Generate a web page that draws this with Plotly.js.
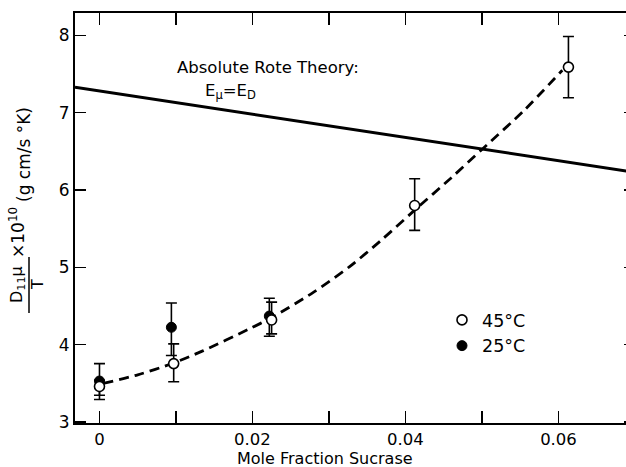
<!DOCTYPE html>
<html>
<head>
<meta charset="utf-8">
<script src="https://cdn.plot.ly/plotly-3.0.1.min.js"></script>
<style>
html, body { margin: 0; padding: 0; overflow: hidden; background: #fff; }
#chart { width: 640px; height: 467px; }
</style>
</head>
<body>
<div id="chart"></div>
<script>
// 45 °C measurements (open circles)
var x45 = [0, 0.0097, 0.0225, 0.0412, 0.0613];
var y45 = [3.46, 3.755, 4.32, 5.80, 7.59];
var err45Plus = [0.08, 0.255, 0.23, 0.347, 0.397];
var err45Minus = [0.115, 0.235, 0.18, 0.321, 0.396];

// 25 °C measurements (filled circles)
var x25 = [0, 0.0094, 0.0222];
var y25 = [3.53, 4.225, 4.37];
var err25Plus = [0.225, 0.315, 0.23];
var err25Minus = [0.24, 0.365, 0.26];

// dashed curve through the 45 °C data
var xFit = [0.0005, 0.005, 0.0096, 0.0135, 0.0197, 0.0225, 0.028, 0.0327, 0.0367, 0.0412, 0.046, 0.0501, 0.0555, 0.0605];
var yFit = [3.50, 3.61, 3.76, 3.92, 4.21, 4.35, 4.68, 5.01, 5.34, 5.74, 6.16, 6.535, 7.03, 7.55];

// absolute rate theory line
var xTheory = [-0.0032, 0.07];
var yTheory = [7.33, 6.23];

// ticks
var xTickVals = [0, 0.02, 0.04, 0.06];
var xTickText = ['0', '0.02', '0.04', '0.06'];
var yTickVals = [3, 4, 5, 6, 7, 8];

var FONT = 'DejaVu Sans, Liberation Sans, sans-serif';

var traces = [
  {
    x: xTheory, y: yTheory, mode: 'lines', showlegend: false, hoverinfo: 'skip',
    line: { color: '#000', width: 3 }
  },
  {
    x: xFit, y: yFit, mode: 'lines', showlegend: false, hoverinfo: 'skip',
    line: { color: '#000', width: 2.8, dash: '10px,6px', shape: 'spline', smoothing: 0.8 }
  },
  {
    x: x25, y: y25, mode: 'markers', name: '25°C', legendrank: 2,
    marker: { symbol: 'circle', size: 10, color: '#000', line: { color: '#000', width: 1 } },
    error_y: { type: 'data', symmetric: false, array: err25Plus, arrayminus: err25Minus,
               color: '#000', thickness: 1.6, width: 5.5 }
  },
  {
    x: x45, y: y45, mode: 'markers', name: '45°C', legendrank: 1,
    marker: { symbol: 'circle', size: 10, color: '#fff', line: { color: '#000', width: 1.6 } },
    error_y: { type: 'data', symmetric: false, array: err45Plus, arrayminus: err45Minus,
               color: '#000', thickness: 1.6, width: 5.5 }
  }
];

function px2x(px) { return (px - 75) / 560; }
function py2y(py) { return (423 - py) / 410; }

var layout = {
  width: 640, height: 467,
  margin: { l: 75, r: 5, t: 13, b: 44 },
  paper_bgcolor: '#fff', plot_bgcolor: '#fff',
  font: { family: FONT, color: '#000', size: 17 },
  showlegend: true,
  legend: {
    x: px2x(442), y: py2y(302), xanchor: 'left', yanchor: 'top',
    bgcolor: 'rgba(0,0,0,0)', borderwidth: 0,
    font: { family: FONT, size: 17.5, color: '#000' },
    itemwidth: 30
  },
  xaxis: {
    range: [-0.0032, 0.07],
    tickvals: xTickVals, ticktext: xTickText,
    ticks: 'inside', ticklen: 12, tickwidth: 1.5, tickcolor: '#000',
    minor: { dtick: 0.01, tick0: 0, ticks: 'inside', ticklen: 12, tickwidth: 1.5, tickcolor: '#000', showgrid: false },
    showline: true, linewidth: 2, linecolor: '#000', mirror: 'ticks',
    showgrid: false, zeroline: false,
    tickfont: { family: FONT, size: 16.5 }
  },
  yaxis: {
    range: [2.987, 8.29],
    tickvals: yTickVals,
    ticks: 'inside', ticklen: 11, tickwidth: 1.5, tickcolor: '#000',
    showline: true, linewidth: 2, linecolor: '#000', mirror: 'ticks',
    showgrid: false, zeroline: false,
    tickfont: { family: FONT, size: 17 }
  },
  shapes: [
    { type: 'line', xref: 'paper', yref: 'paper',
      x0: px2x(29), x1: px2x(29), y0: py2y(313), y1: py2y(257),
      line: { color: '#000', width: 1.5 } }
  ],
  annotations: [
    { text: 'Mole Fraction Sucrase', xref: 'paper', yref: 'paper',
      x: px2x(325), y: py2y(458), xanchor: 'center', yanchor: 'middle',
      showarrow: false, font: { family: FONT, size: 16 } },
    { text: 'Absolute Rote Theory:', xref: 'paper', yref: 'paper',
      x: px2x(175), y: py2y(67), xanchor: 'left', yanchor: 'middle',
      showarrow: false, font: { family: FONT, size: 16.5 } },
    { text: 'E<sub>μ</sub>=E<sub>D</sub>', xref: 'paper', yref: 'paper',
      x: px2x(203), y: py2y(92), xanchor: 'left', yanchor: 'middle',
      showarrow: false, font: { family: FONT, size: 16.5 } },
    { text: 'D<sub>11</sub>μ', xref: 'paper', yref: 'paper', textangle: -90,
      x: px2x(18), y: py2y(285), xanchor: 'center', yanchor: 'middle',
      showarrow: false, font: { family: FONT, size: 16 } },
    { text: 'T', xref: 'paper', yref: 'paper', textangle: -90,
      x: px2x(38), y: py2y(285), xanchor: 'center', yanchor: 'middle',
      showarrow: false, font: { family: FONT, size: 16 } },
    { text: '×10<sup>10</sup>', xref: 'paper', yref: 'paper', textangle: -90,
      x: px2x(17), y: py2y(232), xanchor: 'center', yanchor: 'middle',
      showarrow: false, font: { family: FONT, size: 17 } },
    { text: '(g cm/s °K)', xref: 'paper', yref: 'paper', textangle: -90,
      x: px2x(24), y: py2y(155), xanchor: 'center', yanchor: 'middle',
      showarrow: false, font: { family: FONT, size: 17 } }
  ]
};

Plotly.newPlot('chart', traces, layout, { staticPlot: true, displayModeBar: false });
</script>
</body>
</html>
